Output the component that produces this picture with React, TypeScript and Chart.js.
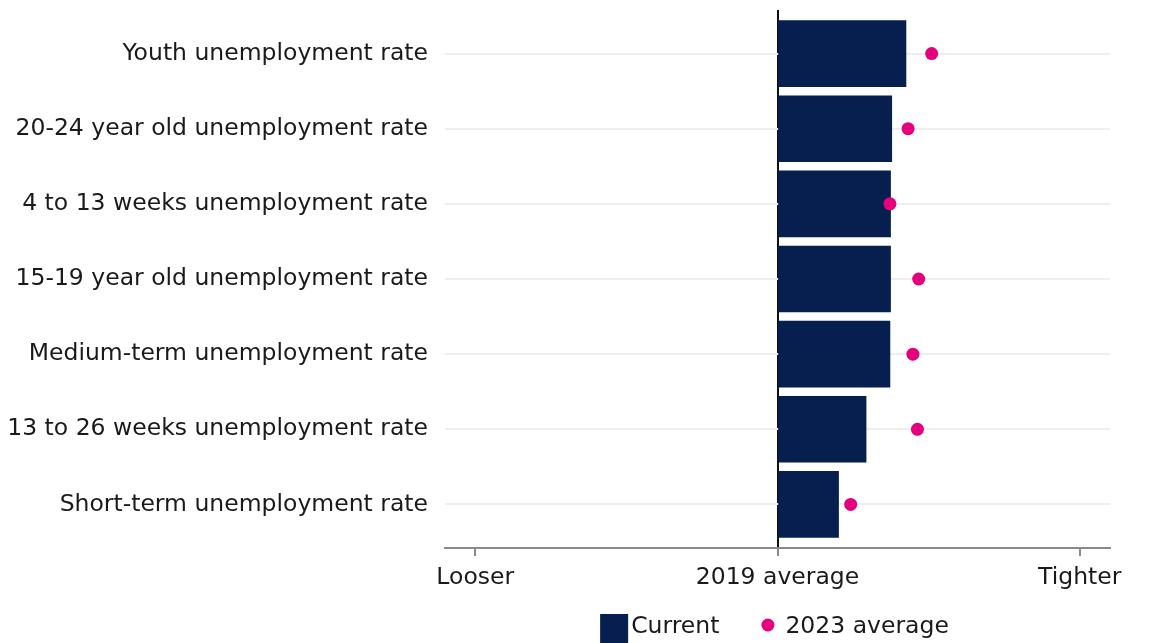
import React, { useEffect, useRef } from "react";
import { Chart, registerables } from "chart.js";

Chart.register(...registerables);

const categories = [
  "Youth unemployment rate",
  "20-24 year old unemployment rate",
  "4 to 13 weeks unemployment rate",
  "15-19 year old unemployment rate",
  "Medium-term unemployment rate",
  "13 to 26 weeks unemployment rate",
  "Short-term unemployment rate",
];

const currentValues = [0.425, 0.378, 0.374, 0.374, 0.372, 0.293, 0.202];
const average2023Values = [0.51, 0.432, 0.372, 0.467, 0.448, 0.463, 0.242];

const xTickValues = [-1, 0, 1];
const xTickLabels = ["Looser", "2019 average", "Tighter"];

const seriesNames = ["Current", "2023 average"];

const FONT = "'DejaVu Sans', sans-serif";
const FONT_SIZE = 23.5;
const NAVY = "#061f4f";
const MAGENTA = "#e5007d";
const TEXT = "#1a1a1a";

const legendPlugin = {
  id: "customLegend",
  afterDraw(chart: any) {
    const { ctx, chartArea } = chart;
    const ds = chart.data.datasets;
    ctx.save();
    ctx.font = `${FONT_SIZE}px ${FONT}`;
    ctx.textBaseline = "middle";
    ctx.textAlign = "left";
    const w1 = ctx.measureText(ds[0].label).width;
    const w2 = ctx.measureText(ds[1].label).width;
    const box = 28;
    const dotR = 6.5;
    const total = box + 3 + w1 + 42 + dotR * 2 + 11 + w2;
    const cy = chartArea.bottom + 79;
    let x = (chartArea.left + chartArea.right) / 2 - 3 - total / 2;
    ctx.fillStyle = ds[0].backgroundColor;
    ctx.fillRect(x, cy - box / 2 + 1, box, box + 2);
    x += box + 3;
    ctx.fillStyle = TEXT;
    ctx.fillText(ds[0].label, x, cy);
    x += w1 + 42;
    ctx.fillStyle = ds[1].backgroundColor;
    ctx.beginPath();
    ctx.arc(x + dotR, cy - 2, dotR, 0, Math.PI * 2);
    ctx.fill();
    x += dotR * 2 + 11;
    ctx.fillStyle = TEXT;
    ctx.fillText(ds[1].label, x, cy);
    ctx.restore();
  },
};

export default function App() {
  const canvasRef = useRef<HTMLCanvasElement | null>(null);

  useEffect(() => {
    if (!canvasRef.current) return;
    const chart = new Chart(canvasRef.current, {
      type: "bar",
      data: {
        datasets: [
          {
            type: "bar",
            label: seriesNames[0],
            data: currentValues.map((v, i) => ({ x: v, y: i })),
            backgroundColor: NAVY,
            borderWidth: 0,
            barThickness: 66,
            order: 1,
          } as any,
          {
            type: "scatter",
            label: seriesNames[1],
            data: average2023Values.map((v, i) => ({ x: v, y: i })),
            backgroundColor: MAGENTA,
            borderColor: MAGENTA,
            pointRadius: 6.5,
            borderWidth: 0,
            order: 0,
          } as any,
        ],
      },
      options: {
        indexAxis: "y",
        animation: false,
        responsive: true,
        maintainAspectRatio: false,
        layout: { autoPadding: false, padding: { top: 2, right: 49, bottom: 50, left: 0 } },
        plugins: {
          legend: { display: false },
          tooltip: { enabled: false },
        },
        scales: {
          x: {
            type: "linear",
            min: -1.1,
            max: 1.1,
            afterBuildTicks: (scale: any) => {
              scale.ticks = xTickValues.map((v) => ({ value: v }));
            },
            afterFit: (scale: any) => {
              scale.height = 45;
            },
            ticks: {
              callback: (v: any) => xTickLabels[xTickValues.indexOf(Number(v))],
              font: { family: FONT, size: FONT_SIZE },
              color: TEXT,
              padding: 8,
              maxRotation: 0,
              autoSkip: false,
            },
            grid: {
              color: (c: any) => (c.tick && c.tick.value === 0 ? "#111111" : "rgba(0,0,0,0)"),
              lineWidth: 2,
              tickColor: "#8a8a8a",
              tickLength: 8,
              drawOnChartArea: true,
            },
            border: { display: true, color: "#8a8a8a", width: 2 },
          },
          y: {
            type: "linear",
            reverse: true,
            offset: false,
            min: -0.58,
            max: 6.58,
            afterBuildTicks: (scale: any) => {
              scale.ticks = categories.map((_, i) => ({ value: i }));
            },
            afterFit: (scale: any) => {
              scale.width = 437;
              scale.paddingTop = 0;
              scale.paddingBottom = 0;
            },
            ticks: {
              callback: (v: any) => categories[Number(v)],
              font: { family: FONT, size: FONT_SIZE },
              color: TEXT,
              padding: 17,
              autoSkip: false,
            },
            grid: {
              offset: false,
              color: "#eeeeee",
              lineWidth: 2,
              drawTicks: false,
            },
            border: { display: false },
          },
        },
      } as any,
      plugins: [legendPlugin],
    });
    return () => chart.destroy();
  }, []);

  return (
    <div style={{ position: "relative", width: 1151, height: 635 }}>
      <canvas ref={canvasRef} />
    </div>
  );
}
